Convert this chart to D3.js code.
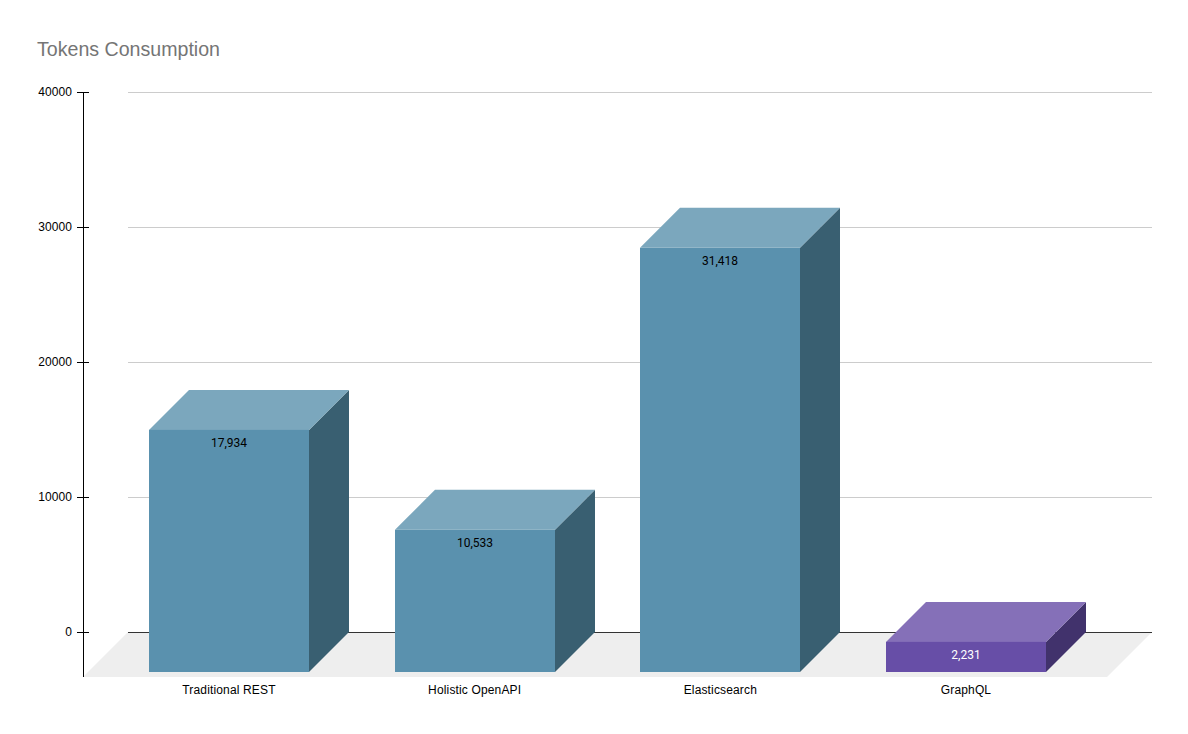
<!DOCTYPE html>
<html><head><meta charset="utf-8">
<script src="https://cdnjs.cloudflare.com/ajax/libs/d3/7.8.5/d3.min.js"></script>
<style>html,body{margin:0;padding:0;background:#fff}svg{display:block}text{font-family:Roboto,sans-serif}</style>
</head><body><svg id="c" width="1188" height="734"></svg>
<script>
const categories = ["Traditional REST", "Holistic OpenAPI", "Elasticsearch", "GraphQL"];
const tokens = [17934, 10533, 31418, 2231];
const tickValues = [0, 10000, 20000, 30000, 40000];
const titleText = "Tokens Consumption";
const palette = {
  blue: {front: "#5a91ae", top: "#7ba7bd", side: "#395f71", label: "#000000"},
  purple: {front: "#674ea7", top: "#8570b8", side: "#41326c", label: "#ffffff"}
};
const seriesColor = ["blue", "blue", "blue", "purple"];
const arial = "'Liberation Sans',Arial,sans-serif";

const depth = 40, floorFront = 45;
const svg = d3.select("#c");
const y = d3.scaleLinear().domain([0, 40000]).range([632, 92]);
const x = d3.scaleBand().domain(categories).range([106.17, 1088.83]).paddingInner(0.34872).paddingOuter(0.17436);
const bw = Math.round(x.bandwidth());
const left = d => Math.round(x(d.c));
const rows = categories.map((c, i) => ({c, v: tokens[i], col: palette[seriesColor[i]]}));

svg.append("text").attr("x", 37).attr("y", 56).attr("font-size", 19.6).style("font-family", arial).attr("fill", "#757575").text(titleText);

// floor
const fx0 = 83, fx1 = 1107, fyB = y(0), fyF = y(0) + floorFront, dxF = floorFront;
svg.append("path").attr("fill", "#eeeeee")
  .attr("d", `M${fx0},${fyF}L${fx0 + dxF},${fyB}L${fx1 + dxF},${fyB}L${fx1},${fyF}Z`);

// grid
svg.append("g").selectAll("line").data(tickValues).join("line")
  .attr("x1", fx0 + dxF).attr("x2", fx1 + dxF)
  .attr("y1", d => Math.round(y(d)) + 0.5).attr("y2", d => Math.round(y(d)) + 0.5)
  .attr("stroke", d => d === 0 ? "#333333" : "#cccccc").attr("stroke-width", 1);

// axis
const ax = svg.append("g").attr("transform", "translate(83,0)")
  .call(d3.axisLeft(y).tickValues(tickValues).tickFormat(d3.format("d")).tickSizeInner(6).tickSizeOuter(0).tickPadding(5));
ax.select(".domain").remove();
ax.selectAll("line").attr("x1", -6).attr("x2", 6).attr("stroke", "#000");
ax.selectAll("text").attr("font-size", 12).style("font-family", arial).style("letter-spacing", "0.1px").attr("fill", "#000").attr("x", -11).attr("dy", "0.3em");
ax.append("line").attr("x1", 0.5).attr("x2", 0.5).attr("y1", y(40000)).attr("y2", fyF).attr("stroke", "#000");

// bars
const g = svg.append("g").selectAll("g").data(rows).join("g");
g.append("path").attr("fill", d => d.col.side).attr("d", d => {
  const r = left(d) + bw, t = y(d.v) + depth, b = y(0) + depth;
  return `M${r},${t}L${r + depth},${t - depth}L${r + depth},${b - depth}L${r},${b}Z`;
});
g.append("path").attr("fill", d => d.col.top).attr("d", d => {
  const l = left(d), r = l + bw, t = y(d.v) + depth;
  return `M${l},${t}L${l + depth},${t - depth}L${r + depth},${t - depth}L${r},${t}Z`;
});
g.append("rect").attr("fill", d => d.col.front)
  .attr("x", left).attr("width", bw)
  .attr("y", d => y(d.v) + depth).attr("height", d => y(0) - y(d.v));
g.append("text").attr("text-anchor", "middle").attr("font-size", 12).attr("fill", d => d.col.label)
  .attr("x", d => left(d) + bw / 2).attr("y", d => y(d.v) + depth + 17)
  .text(d => d3.format(",")(d.v));

// category labels
svg.append("g").selectAll("text").data(categories).join("text")
  .attr("text-anchor", "middle").attr("font-size", 12).style("font-family", arial).style("letter-spacing", "0.15px").attr("fill", "#000")
  .attr("x", d => x(d) + x.bandwidth() / 2).attr("y", 694).text(d => d);
</script></body></html>
